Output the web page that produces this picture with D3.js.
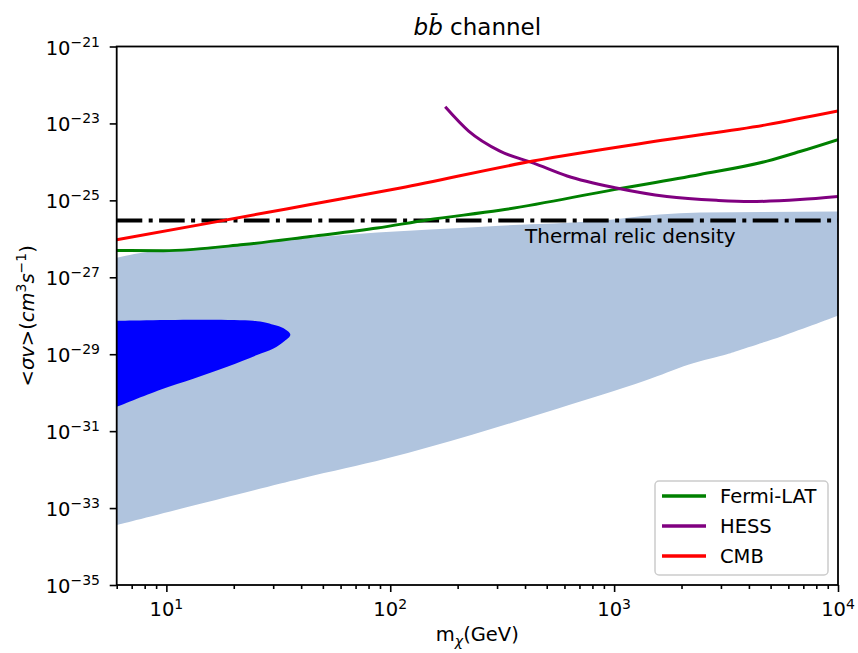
<!DOCTYPE html>
<meta charset="utf-8">
<html>
<style>
  body, html { margin: 0; background: #fff; }
  text { font-family: "DejaVu Sans", sans-serif; fill: #000; }
</style>
<body>
<svg></svg>
<script src="https://cdn.jsdelivr.net/npm/d3@7"></script>
<script>
// thermal relic cross section
var relic = 3e-26

// limits, mass in GeV, <sigma v> in cm^3/s
var fermiM  = [6, 9.7, 22.1, 44, 87.5, 146, 309, 1000, 2420, 4820, 6760, 1e4]
var fermiSv = [5.0e-27, 4.9e-27, 7.1e-27, 1.15e-26, 1.9e-26, 3.1e-26, 5.5e-26, 1.9e-25, 4.7e-25, 1.05e-24, 1.86e-24, 3.8e-24]
var hessM   = [176, 224, 309, 437, 617, 1023, 1720, 2870, 4050, 6760, 1e4]
var hessSv  = [2.7e-23, 6.3e-24, 1.9e-24, 9.3e-25, 4.3e-25, 2.1e-25, 1.26e-25, 1.0e-25, 9.3e-26, 1.05e-25, 1.26e-25]
var cmbM    = [6, 15.7, 44, 111, 434, 1730, 4820, 1e4]
var cmbSv   = [9.5e-27, 2.6e-26, 7.8e-26, 2.1e-25, 1.05e-24, 3.8e-24, 9.3e-24, 2.1e-23]

// allowed band (light) edges
var bandUpM  = [6, 7.9, 11.2, 22.1, 44, 87.5, 151, 309, 867, 1600, 2420, 1e4]
var bandUpSv = [3.2e-27, 4.4e-27, 5.2e-27, 7.4e-27, 1.07e-26, 1.45e-26, 1.74e-26, 2.2e-26, 2.95e-26, 4.3e-26, 4.8e-26, 5.1e-26]
var bandLoM  = [6, 39.6, 96, 232, 562, 1360, 2160, 3190, 3510, 5620, 1e4]
var bandLoSv = [3.6e-34, 5.8e-33, 1.95e-32, 8.1e-32, 3.9e-31, 2.0e-30, 5.4e-30, 1.0e-29, 1.2e-29, 2.95e-29, 1.0e-28]

// dark region outline
var coreM  = [6, 24.4, 30.1, 33.4, 35.8, 33.4, 30.1, 25.4, 18.7, 13.2, 9.4, 6]
var coreSv = [7.4e-29, 7.4e-29, 5.8e-29, 4.7e-29, 3.2e-29, 2.1e-29, 1.4e-29, 9.5e-30, 4.7e-30, 2.3e-30, 1.2e-30, 4.3e-31]

var xTicks = [10, 100, 1000, 10000], xExp = ['1', '2', '3', '4']
var yTicks = [1e-35, 1e-33, 1e-31, 1e-29, 1e-27, 1e-25, 1e-23, 1e-21]
  , yExp = ['\u221235', '\u221233', '\u221231', '\u221229', '\u221227', '\u221225', '\u221223', '\u221221']

var legendNames = ['Fermi-LAT', 'HESS', 'CMB']
  , legendColors = ['#008000', '#800080', '#ff0000']

var W = 858, H = 653
  , m = { l: 116.7, r: 838, t: 46.5, b: 585 }
  , svg = d3.select('svg').attr('width', W).attr('height', H)
  , x = d3.scaleLog().domain([6, 1e4]).range([m.l, m.r])
  , y = d3.scaleLog().domain([1e-35, 1e-21]).range([m.b, m.t])
  , zip = function(a, b){ return a.map(function(d, i){ return [d, b[i]] }) }

svg.append('clipPath').attr('id', 'clip').append('rect')
  .attr('x', m.l).attr('y', m.t).attr('width', m.r - m.l).attr('height', m.b - m.t)

var plot = svg.append('g').attr('clip-path', 'url(#clip)')
  , smooth = d3.line().curve(d3.curveCatmullRom.alpha(0.5)).x(function(d){ return x(d[0]) }).y(function(d){ return y(d[1]) })
  , curve = d3.line().curve(d3.curveMonotoneX).x(function(d){ return x(d[0]) }).y(function(d){ return y(d[1]) })

// light band: upper edge, then lower edge drawn back
var up = curve(zip(bandUpM, bandUpSv))
  , lo = smooth(zip(bandLoM, bandLoSv).reverse())
plot.append('path').attr('d', up + 'L' + lo.slice(1) + 'Z').attr('fill', '#b0c4de')
plot.append('path').attr('d', smooth(zip(coreM, coreSv)) + 'Z').attr('fill', '#0000ff')

// thermal relic line
plot.append('line')
  .attr('x1', m.l).attr('x2', m.r).attr('y1', y(relic)).attr('y2', y(relic))
  .attr('stroke', '#000').attr('stroke-width', 4).attr('stroke-dasharray', '25.6,6.4,4,6.4')

var series = [zip(fermiM, fermiSv), zip(hessM, hessSv), zip(cmbM, cmbSv)]
series.forEach(function(s, i){
  plot.append('path').attr('d', curve(s)).attr('fill', 'none')
    .attr('stroke', legendColors[i]).attr('stroke-width', 3)
})

svg.append('text').attr('x', 525).attr('y', 243).style('font-size', '20px').attr('fill', '#111')
  .text('Thermal relic density')

// axes
var xAxis = d3.axisBottom(x).tickValues(xTicks).tickSize(7).tickFormat('')
var xMinor = []
;[1, 10, 100, 1000].forEach(function(d){
  for (var k = 2; k < 10; k++) if (d * k >= 6 && d * k < 1e4) xMinor.push(d * k)
})
svg.append('g').attr('transform', 'translate(0,' + m.b + ')').call(xAxis)
svg.append('g').attr('transform', 'translate(0,' + m.b + ')')
  .call(d3.axisBottom(x).tickValues(xMinor).tickSize(4).tickFormat(''))
svg.append('g').attr('transform', 'translate(' + m.l + ',0)')
  .call(d3.axisLeft(y).tickValues(yTicks).tickSize(7).tickFormat(''))
svg.selectAll('.domain').remove()
svg.selectAll('.tick line').attr('stroke', '#000').attr('stroke-width', 1.6)

xTicks.forEach(function(d, i){
  var t = svg.append('text').attr('x', x(d)).attr('y', 616)
    .attr('text-anchor', 'middle').style('font-size', '19.5px')
  t.append('tspan').text('10')
  t.append('tspan').attr('dy', -7).style('font-size', '14px').text(xExp[i])
})
yTicks.forEach(function(d, i){
  var t = svg.append('text').attr('x', 100).attr('y', y(d) + 8)
    .attr('text-anchor', 'end').style('font-size', '19.5px')
  t.append('tspan').text('10')
  t.append('tspan').attr('dy', -8).style('font-size', '14px').text(yExp[i])
})

// frame
svg.append('rect').attr('x', m.l).attr('y', m.t).attr('width', m.r - m.l).attr('height', m.b - m.t)
  .attr('fill', 'none').attr('stroke', '#000').attr('stroke-width', 1.8)

// title
var title = svg.append('text').attr('x', (m.l + m.r) / 2).attr('y', 35)
  .attr('text-anchor', 'middle').style('font-size', '23px')
title.append('tspan').style('font-style', 'italic').text('bb\u0304')
title.append('tspan').text(' channel')

// x label
var xl = svg.append('text').attr('x', (m.l + m.r) / 2).attr('y', 641)
  .attr('text-anchor', 'middle').style('font-size', '19.5px')
xl.append('tspan').text('m')
xl.append('tspan').attr('dy', 5).style('font-size', '14px').style('font-style', 'italic').text('\u03c7')
xl.append('tspan').attr('dy', -5).text('(GeV)')

// y label
var yl = svg.append('text').attr('transform', 'translate(34,' + (m.t + m.b) / 2 + ') rotate(-90)')
  .attr('text-anchor', 'middle').style('font-size', '19.5px')
yl.append('tspan').text('<')
yl.append('tspan').style('font-style', 'italic').text('\u03c3v')
yl.append('tspan').text('>(')
yl.append('tspan').style('font-style', 'italic').text('cm')
yl.append('tspan').attr('dy', -8).style('font-size', '14px').text('3')
yl.append('tspan').attr('dy', 8).style('font-style', 'italic').text('s')
yl.append('tspan').attr('dy', -8).style('font-size', '14px').text('\u22121')
yl.append('tspan').attr('dy', 8).text(')')

// legend
var lg = svg.append('g').attr('transform', 'translate(655,481)')
lg.append('rect').attr('width', 173).attr('height', 94).attr('rx', 4)
  .attr('fill', '#fff').attr('fill-opacity', 0.8).attr('stroke', '#ccc').attr('stroke-width', 1.5)
legendNames.forEach(function(n, i){
  var ly = 15 + i * 30
  lg.append('line').attr('x1', 7).attr('x2', 51).attr('y1', ly).attr('y2', ly)
    .attr('stroke', legendColors[i]).attr('stroke-width', 3.5)
  lg.append('text').attr('x', 65).attr('y', ly + 7).style('font-size', '19.5px').text(n)
})
</script>
</body>
</html>
